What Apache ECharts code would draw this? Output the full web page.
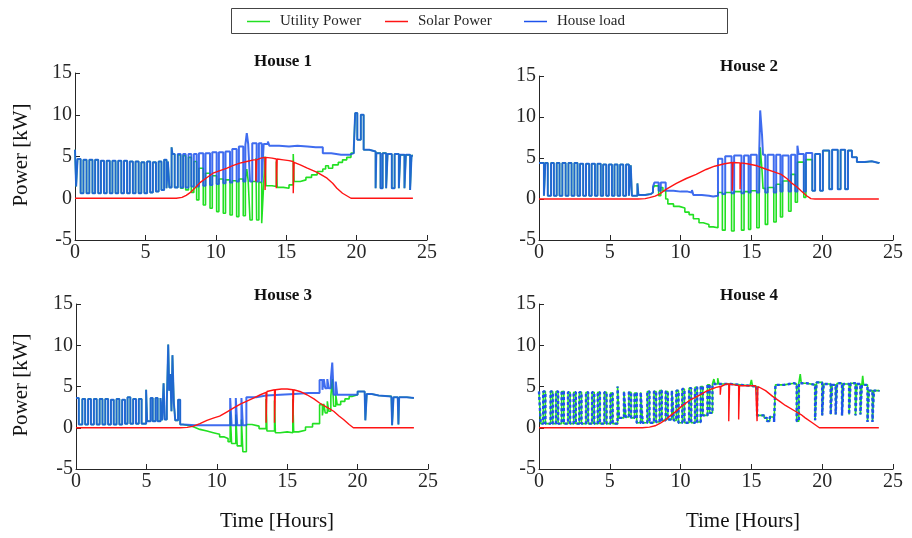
<!DOCTYPE html>
<html>
<head>
<meta charset="utf-8">
<title>House power profiles</title>
<script src="https://cdn.jsdelivr.net/npm/echarts@6.0.0/dist/echarts.min.js"></script>
</head>
<body style="margin:0">
<div id="container" style="width:912px;height:538px"></div>
<script>
// [hour, kW] — load / utility are step data (value holds until next point)
var hourTicks = [0, 5, 10, 15, 20, 25];
var kwTicks = [-5, 0, 5, 10, 15];
var houseNames = ['House 1', 'House 2', 'House 3', 'House 4'];
var seriesNames = ['Utility Power', 'Solar Power', 'House load'];

// ---- House 1
var h1Load = [[0,5.8],[0.08,1.4],[0.18,4.7],[0.4,0.6],[0.6,4.6],[0.82,0.6],[1.02,4.6],[1.24,0.6],[1.43,4.6],[1.65,0.6],[1.84,4.5],[2.06,0.6],[2.25,4.5],[2.47,0.6],[2.66,4.5],[2.88,0.6],[3.07,4.5],[3.29,0.6],[3.48,4.5],[3.7,0.6],[3.89,4.4],[4.11,0.6],[4.3,4.4],[4.52,0.6],[4.71,4.3],[4.93,0.6],[5.12,4.4],[5.34,0.7],[5.53,4.3],[5.75,0.8],[5.94,4.4],[6.14,1.0],[6.33,4.6],[6.5,1.2],[6.6,4.4],[6.7,1.3],[6.86,6.1],[6.92,5.3],[7.08,1.3],[7.3,5.3],[7.5,1.3],[7.68,5.3],[7.86,1.3],[8.06,5.3],[8.26,1.4],[8.44,5.3],[8.64,1.4],[8.8,5.4],[9.11,1.5],[9.27,5.4],[9.59,1.6],[9.75,5.5],[10.06,1.7],[10.22,5.5],[10.53,1.8],[10.69,5.6],[11.01,1.9],[11.17,5.9],[11.48,2.0],[11.64,6.2],[11.95,2.0],[12.1,6.4],[12.2,7.8],[12.3,6.5],[12.43,2.0],[12.59,6.6],[12.9,2.0],[13.06,6.6],[13.26,1.9],[13.4,6.5],[13.7,6.8],[13.8,6.3],[14.5,6.2],[15.2,6.3],[15.8,6.2],[16.5,6.1],[17.1,6.1],[17.6,5.4],[18.2,5.2],[18.9,5.2],[19.5,5.4],[19.8,5.9],[19.9,10.2],[20.05,7.0],[20.3,10.0],[20.5,5.8],[20.9,5.6],[21.35,1.2],[21.4,5.4],[21.7,1.2],[21.85,5.4],[22.1,1.2],[22.2,5.3],[22.5,1.2],[22.7,5.3],[23.0,1.2],[23.1,5.2],[23.4,1.2],[23.5,5.2],[23.8,1.0],[23.9,5.1],[24.0,5.1]];
var h1GridDay = [[7.08,1.3],[7.3,5.2],[7.5,1.2],[7.68,5.1],[7.86,1.0],[8.06,4.9],[8.26,0.7],[8.44,4.4],[8.64,-0.2],[8.8,3.6],[9.11,-0.8],[9.27,3.0],[9.59,-1.2],[9.75,2.7],[10.06,-1.6],[10.22,2.3],[10.53,-1.8],[10.69,2.2],[11.01,-2.0],[11.17,2.1],[11.48,-2.2],[11.64,2.3],[11.95,-2.1],[12.1,2.2],[12.2,3.5],[12.3,2.1],[12.43,-2.6],[12.59,2.0],[12.85,4.8],[12.9,-2.6],[13.06,1.9],[13.26,-3.0],[13.4,1.7],[13.5,5.0],[13.56,1.5],[14.0,1.4],[14.3,4.4],[14.36,1.3],[14.8,1.2],[15.2,1.6],[15.5,5.3],[15.56,2.0],[16.0,2.2],[16.4,2.5],[16.8,2.8],[17.2,3.2],[17.6,3.5],[17.8,3.9],[18.0,3.6],[18.3,4.0],[18.7,4.3],[19.0,4.6],[19.3,4.9],[19.6,5.4],[19.8,5.9],[19.9,10.2],[20.05,7.0],[20.3,10.0],[20.5,5.8]];
var h1Solar = [[0,0],[7.2,0],[7.6,0.1],[7.9,0.35],[8.2,0.7],[8.5,1.2],[8.9,1.9],[9.3,2.4],[9.8,3.0],[10.3,3.3],[10.8,3.6],[11.2,3.9],[11.7,4.2],[12.2,4.4],[12.7,4.6],[12.85,4.6],[12.85,2.0],[12.9,4.6],[13.2,4.8],[13.5,4.9],[13.5,1.0],[13.56,4.9],[14.0,4.8],[14.3,4.7],[14.3,1.2],[14.36,4.7],[14.8,4.6],[15.2,4.5],[15.5,4.4],[15.5,0.6],[15.56,4.3],[16.0,4.0],[16.5,3.6],[17.2,3.1],[17.9,2.4],[18.3,1.8],[18.6,1.2],[19.0,0.6],[19.3,0.3],[19.6,0],[24,0]];

// ---- House 2
var h2Load = [[0,4.4],[0.35,0.4],[0.45,4.4],[0.62,0.4],[0.85,4.4],[1.05,0.4],[1.25,4.4],[1.45,0.4],[1.65,4.4],[1.88,0.4],[2.08,4.4],[2.3,0.4],[2.5,4.4],[2.72,0.4],[2.9,4.3],[3.12,0.4],[3.32,4.3],[3.54,0.4],[3.72,4.3],[3.95,0.4],[4.13,4.3],[4.36,0.4],[4.53,4.2],[4.75,0.4],[4.93,4.2],[5.15,0.4],[5.33,4.2],[5.55,0.4],[5.73,4.2],[5.95,0.4],[6.15,4.2],[6.35,0.4],[6.48,4.1],[6.56,0.4],[6.95,1.9],[7.02,0.5],[7.5,0.6],[7.9,0.8],[8.05,1.5],[8.15,2.0],[8.45,1.0],[8.6,2.0],[8.95,1.0],[9.5,0.9],[10.0,0.9],[10.5,0.8],[10.8,1.1],[10.9,0.5],[11.5,0.4],[12.0,0.3],[12.3,0.4],[12.64,4.9],[12.95,0.6],[13.15,5.2],[13.6,0.7],[13.78,5.3],[14.3,0.7],[14.48,5.3],[14.8,0.8],[14.95,5.4],[15.38,0.8],[15.55,5.4],[15.62,10.8],[15.75,7.8],[15.82,5.4],[15.98,0.8],[16.15,5.4],[16.58,0.8],[16.75,5.4],[17.05,0.9],[17.2,5.3],[17.63,0.9],[17.8,5.4],[18.1,0.9],[18.25,6.5],[18.33,5.5],[18.7,0.9],[18.85,5.6],[19.3,1.0],[19.5,5.5],[19.85,1.0],[20.05,5.9],[20.5,1.2],[20.7,6.0],[21.1,1.2],[21.3,6.0],[21.62,1.2],[21.82,5.9],[22.1,5.1],[22.45,4.5],[23.0,4.6],[23.5,4.4],[24.0,4.5]];
var h2GridDay = [[8.05,1.3],[8.15,1.6],[8.45,0.4],[8.6,1.4],[8.75,1.0],[8.95,0.0],[9.1,-0.6],[9.5,-0.9],[9.9,-1.1],[10.3,-1.6],[10.6,-1.9],[10.9,-2.4],[11.3,-2.9],[11.6,-3.1],[12.0,-3.4],[12.3,-3.5],[12.64,0.8],[12.95,-3.8],[13.15,0.8],[13.6,-3.9],[13.78,0.9],[14.3,-3.8],[14.48,0.9],[14.8,-3.7],[14.95,1.0],[15.38,-3.5],[15.55,1.1],[15.62,6.3],[15.75,3.5],[15.82,1.3],[15.98,-3.1],[16.15,1.4],[16.58,-2.8],[16.75,1.8],[17.05,-2.2],[17.2,2.2],[17.63,-1.5],[17.8,3.0],[18.1,-0.4],[18.25,4.5],[18.7,0.2],[18.85,4.8],[19.3,1.0]];
var h2Solar = [[0,0],[7.0,0],[7.5,0.05],[7.8,0.16],[8.2,0.35],[8.5,0.6],[9.0,1.2],[9.7,1.9],[10.4,2.5],[11.1,3.0],[11.8,3.6],[12.4,4.0],[13.1,4.3],[13.65,4.45],[13.65,1.0],[13.7,4.45],[14.2,4.4],[14.2,1.2],[14.25,4.4],[14.7,4.3],[15.4,4.05],[16.1,3.6],[16.6,3.3],[17.1,3.0],[17.5,2.5],[17.8,2.0],[18.2,1.5],[18.5,1.0],[18.9,0.4],[19.2,0.05],[19.5,0],[24,0]];

// ---- House 3
var h3Load = [[0,3.6],[0.2,0.4],[0.45,3.5],[0.65,0.4],[0.86,3.5],[1.06,0.4],[1.27,3.5],[1.47,0.4],[1.68,3.5],[1.88,0.4],[2.08,3.5],[2.28,0.4],[2.48,3.4],[2.68,0.4],[2.88,3.5],[3.08,0.4],[3.28,3.4],[3.48,0.5],[3.66,3.7],[3.86,0.5],[4.06,3.5],[4.26,0.5],[4.46,3.5],[4.66,0.5],[4.98,4.6],[5.05,0.8],[5.3,3.6],[5.45,0.8],[5.65,3.6],[5.8,0.8],[6.0,3.6],[6.12,0.9],[6.22,5.4],[6.3,1.0],[6.45,3.0],[6.55,10.1],[6.62,4.5],[6.7,6.5],[6.78,2.0],[6.85,8.8],[6.95,3.0],[7.05,0.9],[7.25,3.4],[7.4,0.4],[7.6,0.3],[8.5,0.3],[9.5,0.3],[10.5,0.3],[10.95,3.6],[11.05,0.3],[11.35,3.6],[11.45,0.3],[11.75,3.6],[11.85,0.3],[12.1,3.7],[12.8,3.9],[13.5,4.0],[14.5,4.1],[15.5,4.2],[16.5,4.2],[17.3,5.8],[17.5,4.6],[17.6,5.9],[17.7,4.8],[17.85,5.9],[17.95,4.8],[18.1,5.9],[18.2,7.9],[18.3,4.0],[18.45,5.6],[18.55,4.0],[19.0,4.0],[19.5,4.0],[20.0,4.4],[20.5,4.3],[20.55,0.9],[20.65,4.1],[21.0,3.9],[21.5,3.8],[22.4,3.7],[22.45,0.3],[22.55,3.7],[22.85,3.7],[22.9,0.4],[22.95,3.7],[23.5,3.6],[24.0,3.6]];
var h3GridDay = [[7.4,0.4],[7.6,0.2],[8.2,0.0],[8.5,-0.2],[8.8,-0.4],[9.3,-0.6],[9.75,-0.8],[10.2,-1.1],[10.5,-1.3],[10.8,-1.7],[10.95,2.0],[11.05,-1.9],[11.35,1.6],[11.45,-2.2],[11.75,1.0],[11.85,-2.9],[12.1,0.4],[12.5,0.2],[13.0,-0.1],[13.5,3.5],[13.56,-0.4],[14.1,3.3],[14.16,-0.6],[14.5,-0.5],[15.0,-0.6],[15.4,3.5],[15.46,-0.5],[15.8,-0.3],[16.3,0.1],[16.8,0.5],[17.3,2.8],[17.5,1.5],[17.6,2.9],[17.7,1.8],[17.85,3.2],[17.95,2.0],[18.1,3.8],[18.2,5.9],[18.3,2.6],[18.45,4.0],[18.55,2.8],[18.8,3.2],[19.1,3.5],[19.4,3.8],[19.6,4.0]];
var h3Solar = [[0,0],[7.4,0],[7.9,0.05],[8.3,0.16],[8.8,0.5],[9.3,0.9],[9.8,1.2],[10.2,1.4],[10.7,1.9],[11.2,2.4],[11.7,2.9],[12.1,3.2],[12.6,3.6],[13.1,4.0],[13.5,4.3],[13.5,0.6],[13.56,4.4],[14.1,4.6],[14.1,0.6],[14.16,4.6],[14.6,4.7],[15.0,4.7],[15.4,4.6],[15.4,0.6],[15.46,4.6],[15.9,4.4],[16.4,4.0],[16.9,3.5],[17.3,3.0],[17.8,2.5],[18.3,2.0],[18.7,1.4],[19.0,1.0],[19.4,0.4],[19.7,0],[24,0]];

// ---- House 4
var h4Load = [[0,4.4],[0.12,0.5],[0.3,4.4],[0.45,0.5],[0.82,4.4],[0.97,0.5],[1.2,4.4],[1.35,0.5],[1.6,4.4],[1.75,0.5],[2.05,4.3],[2.2,0.5],[2.45,4.3],[2.6,0.5],[2.85,4.3],[3.0,0.5],[3.32,4.3],[3.47,0.5],[3.75,4.3],[3.9,0.5],[4.15,4.3],[4.3,0.5],[4.62,4.3],[4.77,0.5],[5.05,4.2],[5.2,0.5],[5.55,5.0],[5.65,1.2],[6.0,4.4],[6.12,1.3],[6.35,4.3],[6.5,1.2],[6.75,4.2],[6.9,0.6],[7.18,4.3],[7.32,0.6],[7.65,4.4],[7.8,0.6],[8.12,4.4],[8.27,0.7],[8.52,4.5],[8.67,0.9],[8.95,4.4],[9.1,1.0],[9.38,4.5],[9.52,0.9],[9.7,4.5],[9.85,0.6],[10.12,4.7],[10.27,0.6],[10.6,4.8],[10.75,0.6],[11.02,4.9],[11.17,0.7],[11.42,5.0],[11.57,1.5],[11.9,5.2],[12.05,1.8],[12.25,5.3],[12.8,5.3],[13.5,5.2],[14.2,5.1],[14.9,5.0],[15.4,1.5],[15.9,1.2],[16.1,0.8],[16.3,1.3],[16.6,0.7],[16.7,5.2],[17.3,5.4],[18.0,5.3],[18.2,0.8],[18.35,5.4],[18.9,5.2],[19.5,0.9],[19.6,5.5],[20.0,1.5],[20.1,5.3],[20.6,1.6],[20.7,5.2],[20.95,1.6],[21.05,5.4],[21.4,1.5],[21.5,5.3],[21.9,1.6],[22.0,5.4],[22.35,1.5],[22.45,5.3],[22.7,1.6],[22.8,5.2],[23.2,0.7],[23.3,4.5],[23.55,0.7],[23.65,4.5],[24.0,4.4]];
var h4GridSpikes = [
  [[12.3,5.3],[12.35,5.9],[12.42,5.3]],
  [[12.55,5.3],[12.62,6.0],[12.7,5.3]],
  [[14.95,5.0],[15.0,5.8],[15.08,5.0]],
  [[18.4,5.4],[18.45,6.5],[18.52,5.4]],
  [[22.82,5.2],[22.86,6.3],[22.92,5.2]]
];
var h4Solar = [[0,0],[7.3,0],[7.8,0.08],[8.2,0.24],[8.6,0.6],[8.97,1.0],[9.3,1.5],[9.68,2.0],[10.0,2.5],[10.38,3.0],[10.7,3.4],[11.09,3.7],[11.5,4.1],[11.8,4.4],[12.2,4.7],[12.5,4.9],[12.8,5.0],[12.8,4.0],[12.85,5.0],[13.2,5.3],[13.4,5.3],[13.4,0.8],[13.46,5.3],[13.8,5.2],[14.1,5.1],[14.1,1.0],[14.16,5.1],[14.7,5.1],[15.3,5.1],[15.4,5.1],[15.4,0.8],[15.46,5.0],[16.0,4.5],[16.5,3.8],[17.0,3.2],[17.4,2.7],[18.1,2.0],[18.5,1.6],[18.8,1.2],[19.3,0.6],[19.8,0],[24,0]];

// utility power equals the load except where the parts say otherwise
function mix(base, parts) {
    var out = base.slice();
    parts.forEach(function (p) {
        var a = p[0][0], b = p[p.length - 1][0];
        out = out.filter(function (q) { return q[0] < a || q[0] > b; }).concat(p);
    });
    return out.sort(function (m, n) { return m[0] - n[0]; });
}

var houses = [
    { grid: mix(h1Load, [h1GridDay]), solar: h1Solar, load: h1Load, dotted: false },
    { grid: mix(h2Load, [h2GridDay]), solar: h2Solar, load: h2Load, dotted: false },
    { grid: mix(h3Load, [h3GridDay]), solar: h3Solar, load: h3Load, dotted: false },
    { grid: mix(h4Load, h4GridSpikes), solar: h4Solar, load: h4Load, dotted: true }
];

var FONT = 'Liberation Serif';
var INK = '#262626';
var C_GRID = '#22e022', C_SOLAR = '#ff1414', C_LOAD = '#1d52ec';

var boxes = [
    { left: 75, top: 73, width: 352, height: 167 },
    { left: 539, top: 76, width: 354, height: 164 },
    { left: 76, top: 304, width: 352, height: 165 },
    { left: 539, top: 304, width: 354, height: 165 }
];

var dom = document.getElementById('container');
var myChart = echarts.init(dom, null, { renderer: 'canvas' });

var axisCommon = {
    type: 'value',
    axisLine: { show: true, onZero: false, lineStyle: { color: INK, width: 1 } },
    axisTick: { show: true, inside: true, length: 5, lineStyle: { color: INK } },
    splitLine: { show: false }
};

var xAxes = [], yAxes = [], series = [];
boxes.forEach(function (b, i) {
    xAxes.push(Object.assign({}, axisCommon, {
        gridIndex: i, min: hourTicks[0], max: hourTicks[hourTicks.length - 1], interval: 5,
        axisLabel: { color: INK, fontFamily: FONT, fontSize: 20, margin: 3 }
    }));
    yAxes.push(Object.assign({}, axisCommon, {
        gridIndex: i, min: kwTicks[0], max: kwTicks[kwTicks.length - 1], interval: 5,
        axisLabel: { color: INK, fontFamily: FONT, fontSize: 20, margin: 3 }
    }));
    var h = houses[i];
    function mk(name, data, style, step, z) {
        return {
            type: 'line', name: name, data: data, xAxisIndex: i, yAxisIndex: i,
            symbol: 'none', showSymbol: false, step: step ? 'end' : false,
            lineStyle: style, itemStyle: { color: style.color },
            z: z, animation: false, silent: true
        };
    }
    series.push(mk(seriesNames[0], h.grid, { color: C_GRID, width: 1.6 }, true, 3));
    series.push(mk(seriesNames[1], h.solar, { color: C_SOLAR, width: 1.4 }, false, 5));
    if (h.dotted) {
        // load drawn as a broken band so the utility line shows through
        series.push(mk(seriesNames[2], h.load, { color: C_LOAD, width: 2.4, type: [3, 2.5] }, true, 4));
    } else {
        series.push(mk(seriesNames[2], h.load, { color: C_LOAD, width: 2, opacity: 0.85 }, true, 4));
    }
});

function legendAt(name, left) {
    return {
        data: [name], left: left, top: 14, padding: 0, icon: 'rect',
        itemWidth: 23, itemHeight: 1.5, selectedMode: false,
        textStyle: { fontFamily: FONT, fontSize: 15, color: INK, padding: [0, 0, 0, 5] }
    };
}

function txt(s, x, y, size, bold, rot) {
    return {
        type: 'text', x: x, y: y, rotation: rot || 0, silent: true,
        style: {
            text: s, fill: '#111', font: (bold ? 'bold ' : '') + size + 'px "' + FONT + '"',
            textAlign: 'center', textVerticalAlign: 'middle', align: 'center', verticalAlign: 'middle'
        }
    };
}

var option = {
    backgroundColor: '#fff',
    animation: false,
    grid: boxes,
    xAxis: xAxes,
    yAxis: yAxes,
    legend: [legendAt(seriesNames[0], 247), legendAt(seriesNames[1], 385), legendAt(seriesNames[2], 524)],
    graphic: [
        { type: 'rect', shape: { x: 231.5, y: 8.5, width: 496, height: 25 }, style: { fill: 'none', stroke: '#444', lineWidth: 1 }, silent: true },
        txt(houseNames[0], 283, 62, 17, true),
        txt(houseNames[1], 749, 67, 17, true),
        txt(houseNames[2], 283, 296, 17, true),
        txt(houseNames[3], 749, 296, 17, true),
        txt('Power [kW]', 21, 155, 21, false, Math.PI / 2),
        txt('Power [kW]', 21, 385, 21, false, Math.PI / 2),
        txt('Time [Hours]', 277, 521, 21, false),
        txt('Time [Hours]', 743, 521, 21, false)
    ],
    series: series
};

myChart.setOption(option);
window.addEventListener('resize', myChart.resize);
</script>
</body>
</html>
